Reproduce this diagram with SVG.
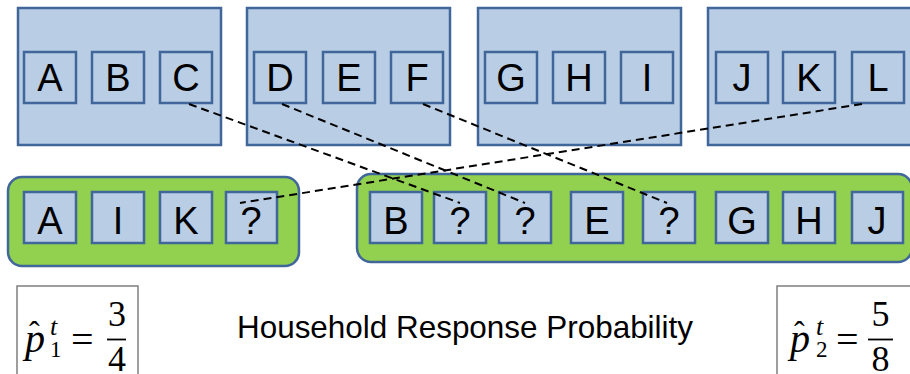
<svg xmlns="http://www.w3.org/2000/svg" width="910" height="374" viewBox="0 0 910 374">
  <style>
    .grp { fill: #b9cde5; stroke: #41679a; stroke-width: 2.5; }
    .cell { fill: #b9cde5; stroke: #41679a; stroke-width: 2.5; }
    .hh { fill: #92d050; stroke: #41679a; stroke-width: 2.5; }
    .lbl { font-family: "Liberation Sans", Arial, sans-serif; font-size: 38px; fill: #000; text-anchor: middle; }
    .link { stroke: #000; stroke-width: 2; stroke-dasharray: 8 5; fill: none; }
    .fbox { fill: none; stroke: #7f7f7f; stroke-width: 1.5; }
    .mi { font-family: "Liberation Serif", "Times New Roman", serif; font-style: italic; fill: #000; }
    .mn { font-family: "Liberation Serif", "Times New Roman", serif; fill: #000; }
    .cap { font-family: "Liberation Sans", Arial, sans-serif; font-size: 32px; fill: #000; }
  </style>

  <rect x="0" y="0" width="910" height="374" fill="#ffffff"/>

  <!-- source groups -->
  <g id="group-abc">
    <rect class="grp" x="18" y="8" width="203" height="137"/>
    <rect class="cell" x="24" y="52" width="52" height="51"/><text class="lbl" x="50" y="91">A</text>
    <rect class="cell" x="92" y="52" width="52" height="51"/><text class="lbl" x="118" y="91">B</text>
    <rect class="cell" x="160" y="52" width="52" height="51"/><text class="lbl" x="186" y="91">C</text>
  </g>
  <g id="group-def">
    <rect class="grp" x="247" y="8" width="203" height="137"/>
    <rect class="cell" x="254" y="52" width="52" height="51"/><text class="lbl" x="280" y="91">D</text>
    <rect class="cell" x="323" y="52" width="52" height="51"/><text class="lbl" x="349" y="91">E</text>
    <rect class="cell" x="391" y="52" width="52" height="51"/><text class="lbl" x="417" y="91">F</text>
  </g>
  <g id="group-ghi">
    <rect class="grp" x="478" y="8" width="203" height="137"/>
    <rect class="cell" x="485" y="52" width="52" height="51"/><text class="lbl" x="511" y="91">G</text>
    <rect class="cell" x="553" y="52" width="52" height="51"/><text class="lbl" x="579" y="91">H</text>
    <rect class="cell" x="621" y="52" width="52" height="51"/><text class="lbl" x="647" y="91">I</text>
  </g>
  <g id="group-jkl">
    <rect class="grp" x="708" y="8" width="204" height="137"/>
    <rect class="cell" x="716" y="52" width="52" height="51"/><text class="lbl" x="742" y="91">J</text>
    <rect class="cell" x="783" y="52" width="52" height="51"/><text class="lbl" x="809" y="91">K</text>
    <rect class="cell" x="852" y="52" width="52" height="51"/><text class="lbl" x="878" y="91">L</text>
  </g>

  <!-- households -->
  <g id="household-1">
    <rect class="hh" x="8" y="177" width="291" height="89" rx="14"/>
    <rect class="cell" x="24" y="192" width="52" height="51"/><text class="lbl" x="50" y="234">A</text>
    <rect class="cell" x="92" y="192" width="52" height="51"/><text class="lbl" x="118" y="234">I</text>
    <rect class="cell" x="160" y="192" width="52" height="51"/><text class="lbl" x="186" y="234">K</text>
    <rect class="cell" x="226" y="192" width="51" height="51"/><text class="lbl" x="251" y="234">?</text>
  </g>
  <g id="household-2">
    <rect class="hh" x="357" y="174" width="555" height="88" rx="14"/>
    <rect class="cell" x="370" y="192" width="52" height="51"/><text class="lbl" x="396" y="234">B</text>
    <rect class="cell" x="434" y="192" width="52" height="51"/><text class="lbl" x="460" y="234">?</text>
    <rect class="cell" x="499" y="192" width="52" height="51"/><text class="lbl" x="525" y="234">?</text>
    <rect class="cell" x="571" y="192" width="52" height="51"/><text class="lbl" x="597" y="234">E</text>
    <rect class="cell" x="643" y="192" width="52" height="51"/><text class="lbl" x="669" y="234">?</text>
    <rect class="cell" x="716" y="192" width="52" height="51"/><text class="lbl" x="742" y="234">G</text>
    <rect class="cell" x="783" y="192" width="52" height="51"/><text class="lbl" x="809" y="234">H</text>
    <rect class="cell" x="852" y="192" width="51" height="51"/><text class="lbl" x="877" y="234">J</text>
  </g>

  <!-- missing-member links -->
  <g id="connectors">
    <line class="link" x1="189" y1="104" x2="460" y2="203"/>
    <line class="link" x1="282" y1="104" x2="525" y2="203"/>
    <line class="link" x1="423" y1="104" x2="667" y2="203"/>
    <line class="link" x1="862" y1="104" x2="240" y2="203"/>
  </g>

  <!-- response probability estimates -->
  <g id="estimate-1">
    <rect class="fbox" x="17" y="286" width="121" height="100"/>
    <text class="mi" x="25" y="352" font-size="40">p</text>
    <text class="mn" x="29" y="343" font-size="32">ˆ</text>
    <text class="mi" x="50" y="335" font-size="26">t</text>
    <text class="mn" x="50" y="357" font-size="23">1</text>
    <text class="mn" x="71" y="353" font-size="40">=</text>
    <line x1="107" y1="339.5" x2="126" y2="339.5" stroke="#000" stroke-width="1.8"/>
    <text class="mn" x="117" y="326" font-size="36" text-anchor="middle">3</text>
    <text class="mn" x="117" y="371" font-size="36" text-anchor="middle">4</text>
  </g>

  <text id="caption" class="cap" x="237" y="338" textLength="456" lengthAdjust="spacingAndGlyphs">Household Response Probability</text>

  <g id="estimate-2">
    <rect class="fbox" x="777" y="286" width="140" height="100"/>
    <text class="mi" x="790" y="352" font-size="40">p</text>
    <text class="mn" x="794" y="343" font-size="32">ˆ</text>
    <text class="mi" x="816" y="335" font-size="26">t</text>
    <text class="mn" x="816" y="357" font-size="23">2</text>
    <text class="mn" x="836" y="353" font-size="40">=</text>
    <line x1="868" y1="339.5" x2="893" y2="339.5" stroke="#000" stroke-width="1.8"/>
    <text class="mn" x="880.5" y="326" font-size="36" text-anchor="middle">5</text>
    <text class="mn" x="880.5" y="371" font-size="36" text-anchor="middle">8</text>
  </g>
</svg>
